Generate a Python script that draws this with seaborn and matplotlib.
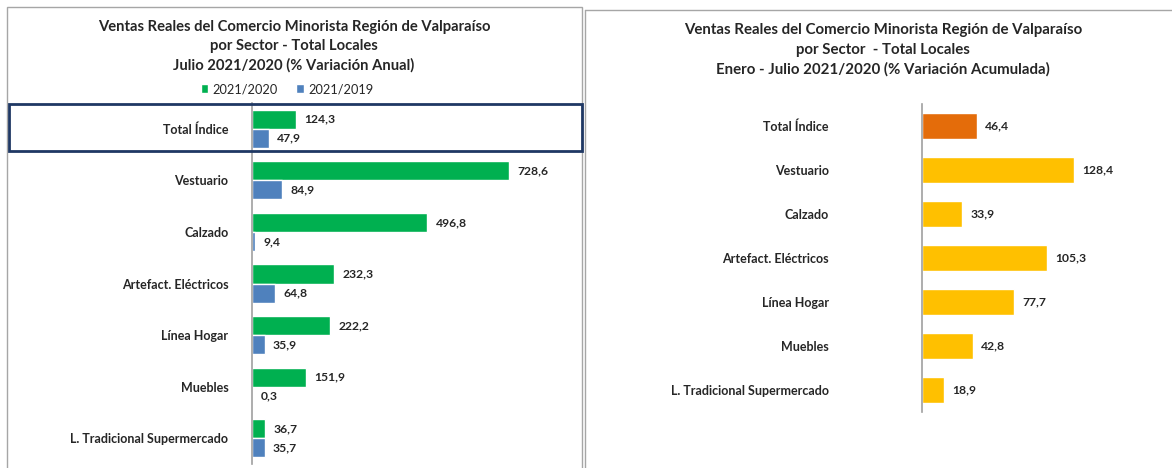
import numpy as np
import pandas as pd
import matplotlib
matplotlib.use("Agg")
import matplotlib.pyplot as plt
from matplotlib.patches import Rectangle, Patch
from matplotlib.lines import Line2D
import seaborn as sns

# ---------------- data ----------------
categories = ["Total Índice", "Vestuario", "Calzado", "Artefact. Eléctricos",
              "Línea Hogar", "Muebles", "L. Tradicional Supermercado"]
series_names = ["2021/2020", "2021/2019"]
var_2021_2020 = [124.3, 728.6, 496.8, 232.3, 222.2, 151.9, 36.7]
var_2021_2019 = [47.9, 84.9, 9.4, 64.8, 35.9, 0.3, 35.7]
acumulada_2021_2020 = [46.4, 128.4, 33.9, 105.3, 77.7, 42.8, 18.9]

title_left = ("Ventas Reales del Comercio Minorista Región de Valparaíso\n"
              "por Sector - Total Locales\n"
              "Julio 2021/2020 (% Variación Anual)")
title_right = ("Ventas Reales del Comercio Minorista Región de Valparaíso\n"
               "por Sector  - Total Locales\n"
               "Enero - Julio 2021/2020 (% Variación Acumulada)")

GREEN = "#00B050"
BLUE = "#4F81BD"
ORANGE = "#E46C0A"
GOLD = "#FFC000"
AXIS_GRAY = "#A0A0A0"

sns.set_style("white")
plt.rcParams["font.family"] = ["Lato", "DejaVu Sans"]

W, H = 1172, 468
fig = plt.figure(figsize=(W / 100, H / 100), dpi=100)


def fx(px):
    return px / W


def fy(py):
    return 1 - py / H


def fmt(v):
    return f"{v:.1f}".replace(".", ",")


def style_axis(ax, pad):
    for s in ["top", "right", "bottom"]:
        ax.spines[s].set_visible(False)
    ax.spines["left"].set_color(AXIS_GRAY)
    ax.spines["left"].set_linewidth(1.2)
    ax.set_xticks([])
    ax.set_xlabel("")
    ax.set_ylabel("")
    ax.set_yticks(np.arange(-0.5, len(categories), 1), minor=True)
    ax.tick_params(axis="y", which="major", length=0, pad=pad, labelsize=9)
    ax.tick_params(axis="y", which="minor", length=4, color=AXIS_GRAY,
                   direction="out", width=1)
    for t in ax.get_yticklabels():
        t.set_fontweight("bold")
    ax.set_facecolor("none")


# ---------------- left chart ----------------
df_left = pd.DataFrame({
    "categoria": categories * 2,
    "serie": [series_names[0]] * len(categories) + [series_names[1]] * len(categories),
    "valor": var_2021_2020 + var_2021_2019,
})

axL = fig.add_axes([fx(252), fy(464), fx(560 - 252), (464 - 103) / H])
sns.barplot(data=df_left, y="categoria", x="valor", hue="serie", orient="h",
            palette=[GREEN, BLUE], width=0.74, gap=0, ax=axL,
            order=categories, hue_order=series_names, legend=False,
            saturation=1)
axL.set_xlim(0, (560 - 252) / 0.353)
axL.set_ylim(len(categories) - 0.5, -0.5)
style_axis(axL, pad=17)
for c in axL.containers:
    axL.bar_label(c, labels=[fmt(v) for v in c.datavalues], padding=6,
                  fontsize=8.7, fontweight="bold")

fig.text(fx(294), fy(46), title_left, ha="center", va="center",
         fontsize=10.6, fontweight="bold", linespacing=1.45)

handles = [Patch(facecolor=GREEN), Patch(facecolor=BLUE)]
fig.legend(handles, series_names, loc="center",
           bbox_to_anchor=(fx(287), fy(89)), ncol=2, frameon=False,
           handlelength=0.6, handleheight=0.6, handletextpad=0.35,
           columnspacing=1.4, fontsize=9.2)

# highlight box around Total Índice
fig.patches.append(Rectangle((fx(9), fy(151)), fx(582 - 9), (151 - 104) / H,
                             transform=fig.transFigure, fill=False,
                             edgecolor="#1F3864", linewidth=2, zorder=10))
# left panel border
fig.patches.append(Rectangle((fx(7), fy(480)), fx(582 - 7), (480 - 7) / H,
                             transform=fig.transFigure, fill=False,
                             edgecolor="#A6A6A6", linewidth=1, zorder=1))

# ---------------- right chart ----------------
df_right = pd.DataFrame({"categoria": categories, "valor": acumulada_2021_2020})
pal_right = {c: (ORANGE if i == 0 else GOLD) for i, c in enumerate(categories)}

axR = fig.add_axes([fx(922), fy(412), fx(1150 - 922), (412 - 104) / H])
sns.barplot(data=df_right, y="categoria", x="valor", hue="categoria",
            orient="h", palette=pal_right, width=0.6, ax=axR,
            order=categories, hue_order=categories, legend=False,
            dodge=False, saturation=1)
axR.set_xlim(0, (1150 - 922) / 1.185)
axR.set_ylim(len(categories) - 0.5, -0.5)
style_axis(axR, pad=67)
for c in axR.containers:
    axR.bar_label(c, labels=[fmt(v) for v in c.datavalues], padding=6,
                  fontsize=8.7, fontweight="bold")

fig.text(fx(883), fy(50), title_right, ha="center", va="center",
         fontsize=10.8, fontweight="bold", linespacing=1.5)

# right panel border lines
fig.add_artist(Line2D([fx(585), fx(1172)], [fy(10), fy(10)],
                      transform=fig.transFigure, color="#A6A6A6", linewidth=1))
fig.add_artist(Line2D([fx(585), fx(585)], [fy(10), fy(480)],
                      transform=fig.transFigure, color="#A6A6A6", linewidth=1))

fig.savefig("out.png", dpi=100, facecolor="white")
